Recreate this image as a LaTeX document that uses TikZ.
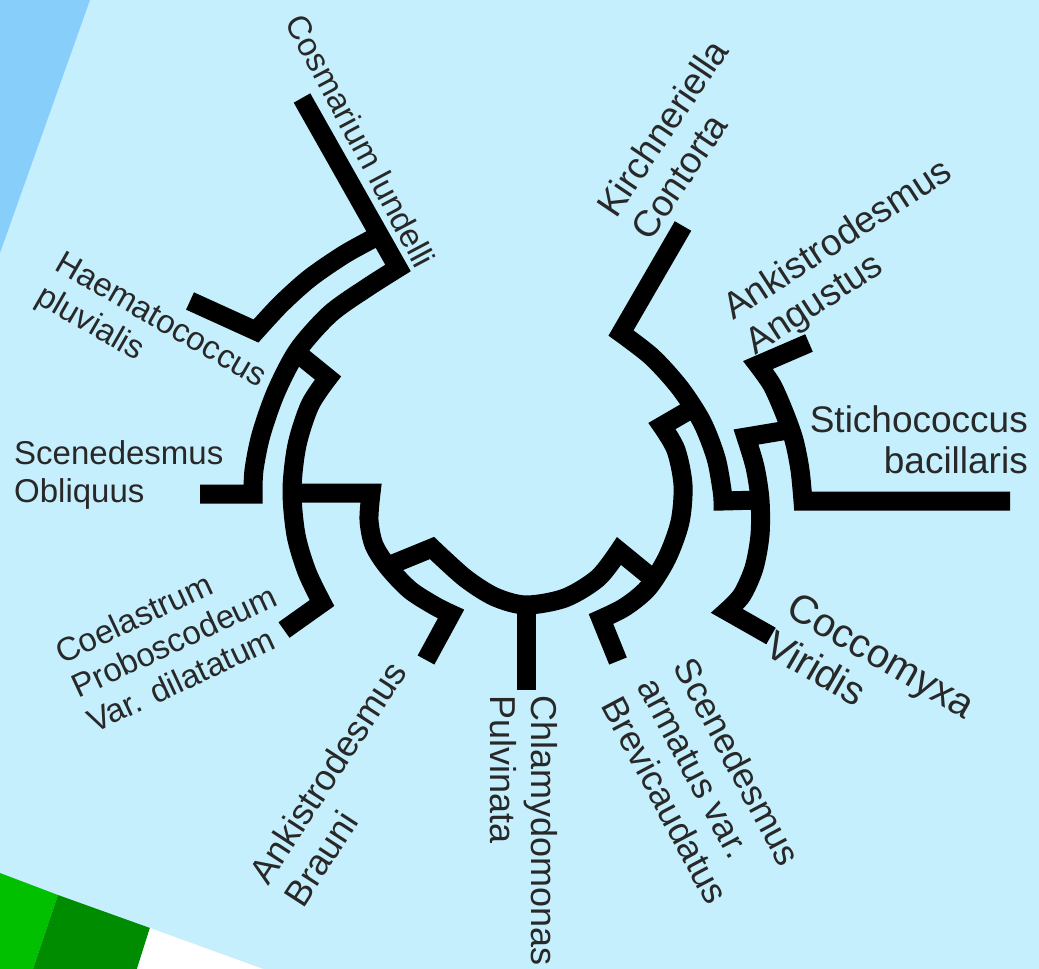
\documentclass[tikz,border=0pt]{standalone}
\usepackage{fontspec}
\newfontfamily\labfont{Liberation Sans}
\definecolor{bgcol}{RGB}{197,239,252}
\definecolor{stripcol}{RGB}{135,207,250}
\definecolor{grA}{RGB}{0,192,0}
\definecolor{grB}{RGB}{0,140,0}
\definecolor{labcol}{RGB}{40,40,40}
\begin{document}
\begin{tikzpicture}[x=1pt,y=-1pt,
  br/.style={line width=19pt, line join=miter, miter limit=10, line cap=butt, black},
  labbase/.style={inner sep=0pt, text=labcol, align=left},
  labL/.style={labbase, font=\labfont\fontsize{33}{38}\selectfont},
  labM/.style={labbase, font=\labfont\fontsize{36}{41}\selectfont},
  labR/.style={labbase, font=\labfont\fontsize{37}{41}\selectfont},
  labX/.style={labbase, font=\labfont\fontsize{40}{44}\selectfont},
]
\useasboundingbox (0,0) rectangle (1039,969);
% background
\fill[bgcol] (0,0) rectangle (1039,969);
\fill[stripcol] (0,0) -- (90,0) -- (0,253) -- cycle;
\fill[grA] (0,873) -- (58,895) -- (33,969) -- (0,969) -- cycle;
\fill[grB] (58,895) -- (150,928) -- (137,969) -- (33,969) -- cycle;
\fill[white] (150,928) -- (263,969) -- (137,969) -- cycle;

% tree (left side)
\draw[br] (302,98) -- plot[smooth] coordinates {(398,268) (365,289) (330,314) (298,350) (276,392) (261,435) (254,470) (253,494)} -- (200,494);
\draw[br] plot[smooth] coordinates {(378,236) (345,254) (310,278) (281,304) (256,331)} -- (190,301);
\draw[br] (296,352) -- plot[smooth] coordinates {(328,378) (310,405) (297,445) (292,490) (296,535) (307,572) (322,603)} -- (284,630);
\draw[br] (292,493) -- plot[smooth] coordinates {(371,493) (369,520) (374,545) (388,567) (410,590) (435,606) (451,614)} -- (426,660);
% root
\draw[br] (388,566) -- plot[smooth] coordinates {(432,548) (465,578) (495,597) (526,605) (565,598) (598,578) (619,551)} -- (652,578);
\draw[br] (526,598) -- (526,690);
% tree (right side)
\draw[br] (618,661) -- plot[smooth] coordinates {(601,619) (625,607) (648,588) (667,558) (680,522) (683,485) (676,450) (662,426)} -- (693,408);
\draw[br] (683,226) -- plot[smooth] coordinates {(621,333) (652,357) (680,388) (702,422) (716,458) (722,490) (723,501)} -- (761,500);
\draw[br] (788,430) -- plot[smooth] coordinates {(746,437) (755,467) (760,500) (760,535) (754,568) (742,595) (727,611)} -- (771,636);
\draw[br] (809,343) -- plot[smooth] coordinates {(758,365) (772,385) (784,412) (794,440) (800,470) (803,501)} -- (1010,501);

% labels
\node[labL, rotate=-62] (cosm) at (361,141) {Cosmarium lundelli};
\node[labL, rotate=-30, anchor=west] (haem) at (48,279) {Haematococcus\\pluvialis};
\node[labL, anchor=west] (sceob) at (14,475) {Scenedesmus\\Obliquus};
\node[labL, rotate=25, anchor=west] (coel) at (73,688) {Coelastrum\\Proboscodeum\\Var. dilatatum};
\node[labM, rotate=57, anchor=west] (brau) at (275,891) {Ankistrodesmus\\Brauni};
\node[labM, rotate=-90, anchor=west] (chla) at (524,695) {Chlamydomonas\\Pulvinata};
\node[labM, rotate=-62, anchor=west] (scar) at (648,680) {Scenedesmus\\armatus var.\\Brevicaudatus};
\node[labX, rotate=-30, anchor=west] (cocc) at (780,622) {Coccomyxa\\Viridis};
\node[labR, anchor=east, align=right] (stic) at (1028,440) {Stichococcus\\bacillaris};
\node[labR, rotate=33, anchor=west] (angu) at (739,330) {Ankistrodesmus\\Angustus};
\node[labR, rotate=56, anchor=west] (kirc) at (622,224) {Kirchneriella\\Contorta};
\end{tikzpicture}
\end{document}
